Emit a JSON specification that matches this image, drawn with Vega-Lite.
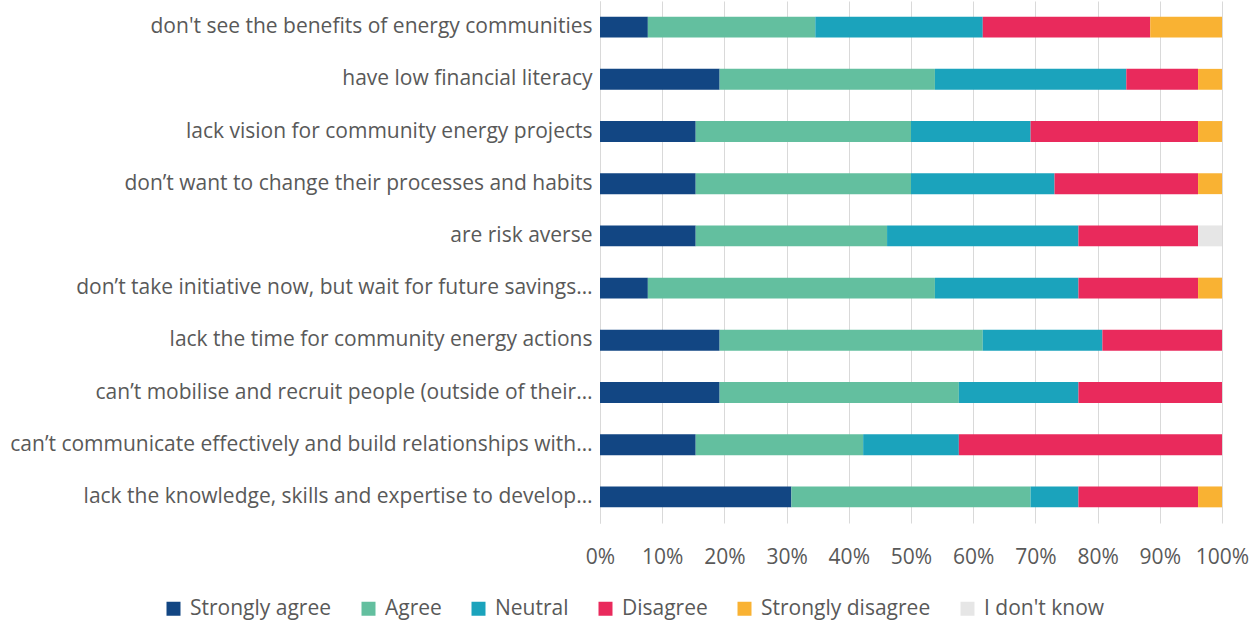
{
  "$schema": "https://vega.github.io/schema/vega-lite/v6.json",
  "width": 622,
  "height": 522,
  "autosize": {"type": "none"},
  "padding": {"left": 600, "top": 1, "right": 36, "bottom": 100},
  "background": "white",
  "config": {
    "view": {"stroke": null},
    "font": "Open Sans",
    "axis": {"labelFont": "Open Sans", "labelColor": "#595959", "labelFontSize": 21}
  },
  "data": {"values": [
    {"q": "don't see the benefits of energy communities", "r": "Strongly agree", "n": 2, "k": 1},
    {"q": "don't see the benefits of energy communities", "r": "Agree", "n": 7, "k": 2},
    {"q": "don't see the benefits of energy communities", "r": "Neutral", "n": 7, "k": 3},
    {"q": "don't see the benefits of energy communities", "r": "Disagree", "n": 7, "k": 4},
    {"q": "don't see the benefits of energy communities", "r": "Strongly disagree", "n": 3, "k": 5},
    {"q": "have low financial literacy", "r": "Strongly agree", "n": 5, "k": 1},
    {"q": "have low financial literacy", "r": "Agree", "n": 9, "k": 2},
    {"q": "have low financial literacy", "r": "Neutral", "n": 8, "k": 3},
    {"q": "have low financial literacy", "r": "Disagree", "n": 3, "k": 4},
    {"q": "have low financial literacy", "r": "Strongly disagree", "n": 1, "k": 5},
    {"q": "lack vision for community energy projects", "r": "Strongly agree", "n": 4, "k": 1},
    {"q": "lack vision for community energy projects", "r": "Agree", "n": 9, "k": 2},
    {"q": "lack vision for community energy projects", "r": "Neutral", "n": 5, "k": 3},
    {"q": "lack vision for community energy projects", "r": "Disagree", "n": 7, "k": 4},
    {"q": "lack vision for community energy projects", "r": "Strongly disagree", "n": 1, "k": 5},
    {"q": "don’t want to change their processes and habits", "r": "Strongly agree", "n": 4, "k": 1},
    {"q": "don’t want to change their processes and habits", "r": "Agree", "n": 9, "k": 2},
    {"q": "don’t want to change their processes and habits", "r": "Neutral", "n": 6, "k": 3},
    {"q": "don’t want to change their processes and habits", "r": "Disagree", "n": 6, "k": 4},
    {"q": "don’t want to change their processes and habits", "r": "Strongly disagree", "n": 1, "k": 5},
    {"q": "are risk averse", "r": "Strongly agree", "n": 4, "k": 1},
    {"q": "are risk averse", "r": "Agree", "n": 8, "k": 2},
    {"q": "are risk averse", "r": "Neutral", "n": 8, "k": 3},
    {"q": "are risk averse", "r": "Disagree", "n": 5, "k": 4},
    {"q": "are risk averse", "r": "I don't know", "n": 1, "k": 6},
    {"q": "don’t take initiative now, but wait for future savings…", "r": "Strongly agree", "n": 2, "k": 1},
    {"q": "don’t take initiative now, but wait for future savings…", "r": "Agree", "n": 12, "k": 2},
    {"q": "don’t take initiative now, but wait for future savings…", "r": "Neutral", "n": 6, "k": 3},
    {"q": "don’t take initiative now, but wait for future savings…", "r": "Disagree", "n": 5, "k": 4},
    {"q": "don’t take initiative now, but wait for future savings…", "r": "Strongly disagree", "n": 1, "k": 5},
    {"q": "lack the time for community energy actions", "r": "Strongly agree", "n": 5, "k": 1},
    {"q": "lack the time for community energy actions", "r": "Agree", "n": 11, "k": 2},
    {"q": "lack the time for community energy actions", "r": "Neutral", "n": 5, "k": 3},
    {"q": "lack the time for community energy actions", "r": "Disagree", "n": 5, "k": 4},
    {"q": "can’t mobilise and recruit people (outside of their…", "r": "Strongly agree", "n": 5, "k": 1},
    {"q": "can’t mobilise and recruit people (outside of their…", "r": "Agree", "n": 10, "k": 2},
    {"q": "can’t mobilise and recruit people (outside of their…", "r": "Neutral", "n": 5, "k": 3},
    {"q": "can’t mobilise and recruit people (outside of their…", "r": "Disagree", "n": 6, "k": 4},
    {"q": "can’t communicate effectively and build relationships with…", "r": "Strongly agree", "n": 4, "k": 1},
    {"q": "can’t communicate effectively and build relationships with…", "r": "Agree", "n": 7, "k": 2},
    {"q": "can’t communicate effectively and build relationships with…", "r": "Neutral", "n": 4, "k": 3},
    {"q": "can’t communicate effectively and build relationships with…", "r": "Disagree", "n": 11, "k": 4},
    {"q": "lack the knowledge, skills and expertise to develop…", "r": "Strongly agree", "n": 8, "k": 1},
    {"q": "lack the knowledge, skills and expertise to develop…", "r": "Agree", "n": 10, "k": 2},
    {"q": "lack the knowledge, skills and expertise to develop…", "r": "Neutral", "n": 2, "k": 3},
    {"q": "lack the knowledge, skills and expertise to develop…", "r": "Disagree", "n": 5, "k": 4},
    {"q": "lack the knowledge, skills and expertise to develop…", "r": "Strongly disagree", "n": 1, "k": 5}
  ]},
  "mark": {"type": "bar"},
  "encoding": {
    "y": {
      "field": "q", "type": "nominal", "sort": null,
      "scale": {"paddingInner": 0.6, "paddingOuter": 0.3},
      "axis": {
        "title": null, "ticks": false, "domain": true, "domainColor": "#d9d9d9", "domainWidth": 1,
        "labelPadding": 8, "labelLimit": 620, "labelFontSize": 21, "grid": false
      }
    },
    "x": {
      "field": "n", "type": "quantitative", "stack": "normalize",
      "scale": {"domain": [0, 1], "nice": false},
      "axis": {
        "title": null, "format": ".0%", "values": [0, 0.1, 0.2, 0.3, 0.4, 0.5, 0.6, 0.7, 0.8, 0.9, 1],
        "grid": true, "gridColor": "#d9d9d9", "gridWidth": 1, "domain": false, "ticks": false,
        "labelPadding": 23, "labelFontSize": 21, "labelFlush": false
      }
    },
    "order": {"field": "k", "type": "quantitative"},
    "color": {
      "field": "r", "type": "nominal",
      "scale": {
        "domain": ["Strongly agree", "Agree", "Neutral", "Disagree", "Strongly disagree", "I don't know"],
        "range": ["#124683", "#63BF9F", "#1BA3BC", "#E92A5C", "#F9B233", "#E6E6E6"]
      },
      "legend": {
        "title": null, "orient": "none", "direction": "horizontal",
        "legendX": -437, "legendY": 597,
        "symbolType": "square", "symbolSize": 196, "symbolStrokeWidth": 0, "symbolOpacity": 1,
        "labelFont": "Open Sans", "labelFontSize": 21, "labelColor": "#595959",
        "labelOffset": 6, "columnPadding": 26, "labelLimit": 300
      }
    }
  }
}
